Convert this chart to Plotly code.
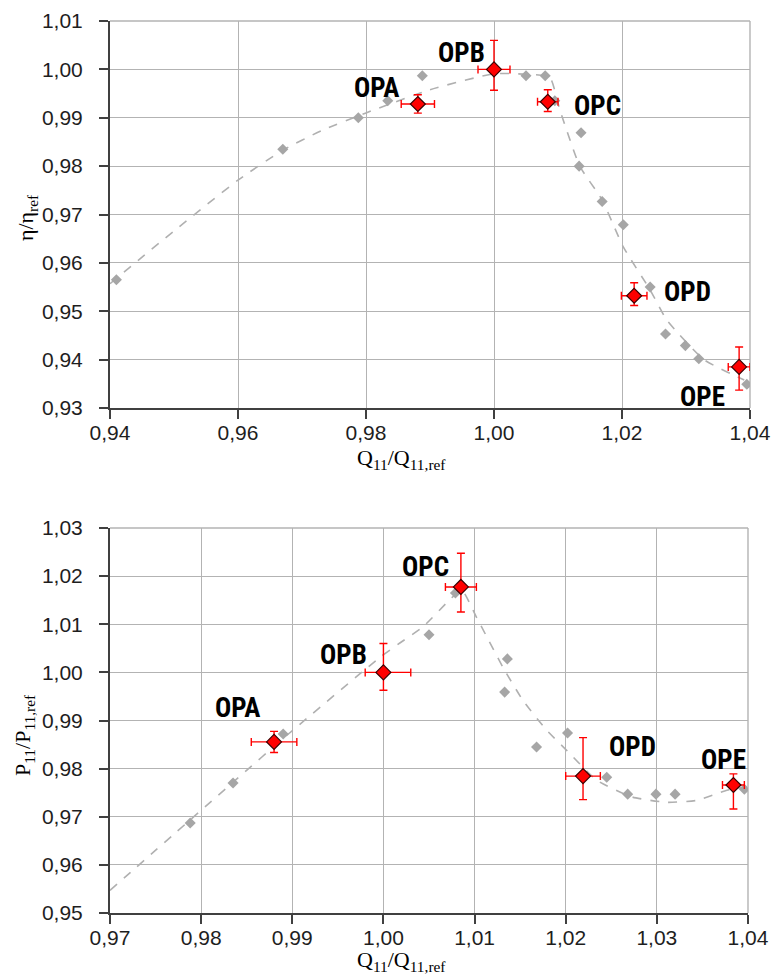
import plotly.graph_objects as go

# ---------------- Top chart: efficiency ----------------
eta_grey_x = [0.941, 0.967, 0.9788, 0.9834, 0.9888, 1.005, 1.008, 1.0095, 1.0136, 1.0133,
              1.0169, 1.0202, 1.0244, 1.0268, 1.0299, 1.0320, 1.0395]
eta_grey_y = [0.9565, 0.9835, 0.9900, 0.9935, 0.9987, 0.9987, 0.9987, 0.9935, 0.9869, 0.9800,
              0.9727, 0.9679, 0.9550, 0.9453, 0.9429, 0.9402, 0.9349]

eta_trend_x = [0.940, 0.950, 0.960, 0.967, 0.973, 0.980, 0.990, 1.000, 1.005, 1.0087, 1.0103,
               1.0134, 1.0169, 1.0202, 1.0244, 1.0270, 1.0328, 1.0391]
eta_trend_y = [0.9557, 0.9666, 0.9771, 0.9833, 0.9873, 0.9910, 0.9958, 0.9991, 0.9990, 0.9984, 0.9916,
               0.9800, 0.9730, 0.9633, 0.9544, 0.9482, 0.9400, 0.9358]

op_names = ["OPA", "OPB", "OPC", "OPD", "OPE"]
eta_op_x = [0.9881, 1.0000, 1.0084, 1.0219, 1.0383]
eta_op_y = [0.99285, 1.0000, 0.99330, 0.95320, 0.93850]
eta_op_xerr = [0.0026, 0.0025, 0.0016, 0.0020, 0.0017]
eta_op_yerr_plus = [0.0019, 0.0060, 0.0025, 0.0027, 0.0041]
eta_op_yerr_minus = [0.0019, 0.0043, 0.0020, 0.0020, 0.0048]

# ---------------- Bottom chart: power ----------------
p_grey_x = [0.9788, 0.9835, 0.9890, 1.0050, 1.0079, 1.0133, 1.0136, 1.0168, 1.0202, 1.0245,
            1.0268, 1.0299, 1.0320, 1.0396]
p_grey_y = [0.9687, 0.9770, 0.9872, 1.0078, 1.0165, 0.9959, 1.0028, 0.9845, 0.9874, 0.9782,
            0.9747, 0.9747, 0.9747, 0.9757]

p_trend_x = [0.970, 0.9837, 0.9897, 0.99967, 1.0018, 1.0043, 1.0076, 1.0086, 1.0102, 1.0131,
             1.0153, 1.0179, 1.0201, 1.0234, 1.0273, 1.0311, 1.0344, 1.0377, 1.0398]
p_trend_y = [0.9547, 0.9775, 0.9874, 1.0032, 1.0061, 1.0094, 1.0157, 1.0171, 1.0115, 1.0011,
             0.9942, 0.9880, 0.9838, 0.9776, 0.9741, 0.9730, 0.9734, 0.9755, 0.9762]

p_op_x = [0.9880, 1.0000, 1.0085, 1.0219, 1.0384]
p_op_y = [0.98555, 1.0000, 1.01775, 0.97845, 0.97660]
p_op_xerr_plus = [0.0025, 0.0030, 0.0017, 0.0019, 0.0012]
p_op_xerr_minus = [0.0025, 0.0020, 0.0017, 0.0019, 0.0012]
p_op_yerr_plus = [0.0022, 0.0060, 0.0070, 0.0080, 0.0023]
p_op_yerr_minus = [0.0022, 0.0037, 0.0052, 0.0049, 0.0050]

# label offsets in pixels (x, y up)
eta_label_shift = [(-41, 16), (-33, 16), (50, -4), (53, 4), (-37, -30)]
p_label_shift = [(-37, 34), (-40, 17), (-35, 20), (49, 29), (-10, 25)]

W, H = 773, 977
GREY = "#a6a6a6"
GRID = "#b3b3b3"
AXIS = "#404040"
RED = "#ff0000"
TICKFONT = dict(family="Liberation Sans, Arial, sans-serif", size=21, color="#1e1e1e")
LABELFONT = dict(family="Liberation Sans Narrow, Arial Narrow, Roboto Condensed, Liberation Sans, sans-serif",
                 size=27, color="#000000")
TITLEFONT = dict(family="Liberation Serif, Times New Roman, serif", size=22, color="#000000")

fig = go.Figure()


def add_panel(xa, ya, gx, gy, tx, ty, ox, oy, exp, exm, eyp, eym):
    fig.add_trace(go.Scatter(x=tx, y=ty, xaxis=xa, yaxis=ya, mode="lines",
                             line=dict(color="#b0b0b0", width=1.6, dash="dash", shape="spline", smoothing=0.5),
                             hoverinfo="skip", showlegend=False))
    fig.add_trace(go.Scatter(x=gx, y=gy, xaxis=xa, yaxis=ya, mode="markers",
                             marker=dict(symbol="diamond", size=8.5, color=GREY),
                             showlegend=False))
    fig.add_trace(go.Scatter(x=ox, y=oy, xaxis=xa, yaxis=ya, mode="markers",
                             marker=dict(symbol="diamond", size=11.5, color=RED,
                                         line=dict(color="#3a0000", width=1.2)),
                             error_x=dict(type="data", symmetric=False, array=exp, arrayminus=exm,
                                          color=RED, thickness=1.4, width=4),
                             error_y=dict(type="data", symmetric=False, array=eyp, arrayminus=eym,
                                          color=RED, thickness=1.4, width=4),
                             showlegend=False))


add_panel("x", "y", eta_grey_x, eta_grey_y, eta_trend_x, eta_trend_y,
          eta_op_x, eta_op_y, eta_op_xerr, eta_op_xerr, eta_op_yerr_plus, eta_op_yerr_minus)
add_panel("x2", "y2", p_grey_x, p_grey_y, p_trend_x, p_trend_y,
          p_op_x, p_op_y, p_op_xerr_plus, p_op_xerr_minus, p_op_yerr_plus, p_op_yerr_minus)


def px_x(v):
    return v / W


def px_y(v):
    return (H - v) / H


common_axis = dict(showgrid=True, gridcolor=GRID, gridwidth=1.4, zeroline=False,
                   showline=True, linecolor=AXIS, linewidth=2, automargin=False,
                   ticks="outside", ticklen=9, tickwidth=1.5, tickcolor=AXIS,
                   tickfont=TICKFONT)

fig.update_layout(
    width=W, height=H, margin=dict(l=0, r=0, t=0, b=0, pad=0, autoexpand=False),
    paper_bgcolor="white", plot_bgcolor="white",
    separators=", ",
    xaxis=dict(domain=[px_x(110), px_x(750)], range=[0.94, 1.04], dtick=0.02, tick0=0.94,
               tickformat=".2f", anchor="y", ticklabelstandoff=-4, **common_axis),
    yaxis=dict(domain=[px_y(408), px_y(21)], range=[0.93, 1.01], dtick=0.01, tick0=0.93,
               tickformat=".2f", anchor="x", ticklabelstandoff=12, **common_axis),
    xaxis2=dict(domain=[px_x(110), px_x(748)], range=[0.97, 1.04], dtick=0.01, tick0=0.97,
                tickformat=".2f", anchor="y2", ticklabelstandoff=-4, **common_axis),
    yaxis2=dict(domain=[px_y(913), px_y(528)], range=[0.95, 1.03], dtick=0.01, tick0=0.95,
                tickformat=".2f", anchor="x2", ticklabelstandoff=12, **common_axis),
)

# top and right plot borders (grey, like gridlines)
for xr, yr in (("x domain", "y domain"), ("x2 domain", "y2 domain")):
    fig.add_shape(type="line", xref=xr, yref=yr, x0=0, x1=1, y0=1, y1=1,
                  line=dict(color=GRID, width=1.4), layer="below")
    fig.add_shape(type="line", xref=xr, yref=yr, x0=1, x1=1, y0=0, y1=1,
                  line=dict(color=GRID, width=1.4), layer="below")

annotations = []
for name, x, y, (dx, dy) in zip(op_names, eta_op_x, eta_op_y, eta_label_shift):
    annotations.append(dict(x=x, y=y, xref="x", yref="y", text="<b>%s</b>" % name, showarrow=False,
                            xanchor="center", yanchor="middle",
                            xshift=dx, yshift=dy, font=LABELFONT))
for name, x, y, (dx, dy) in zip(op_names, p_op_x, p_op_y, p_label_shift):
    annotations.append(dict(x=x, y=y, xref="x2", yref="y2", text="<b>%s</b>" % name, showarrow=False,
                            xanchor="center", yanchor="middle",
                            xshift=dx, yshift=dy, font=LABELFONT))

# axis titles
title_common = dict(xref="paper", yref="paper", showarrow=False, xanchor="center", yanchor="middle",
                    font=TITLEFONT)
annotations += [
    dict(x=px_x(401), y=px_y(459), text="Q<sub>11</sub>/Q<sub>11,ref</sub>", **title_common),
    dict(x=px_x(401), y=px_y(961), text="Q<sub>11</sub>/Q<sub>11,ref</sub>", **title_common),
    dict(x=px_x(27), y=px_y(218), textangle=-90, text="η/η<sub>ref</sub>", **title_common),
    dict(x=px_x(24), y=px_y(735), textangle=-90, text="P<sub>11</sub>/P<sub>11,ref</sub>", **title_common),
]
fig.update_layout(annotations=annotations)

fig.write_html("out.html")
